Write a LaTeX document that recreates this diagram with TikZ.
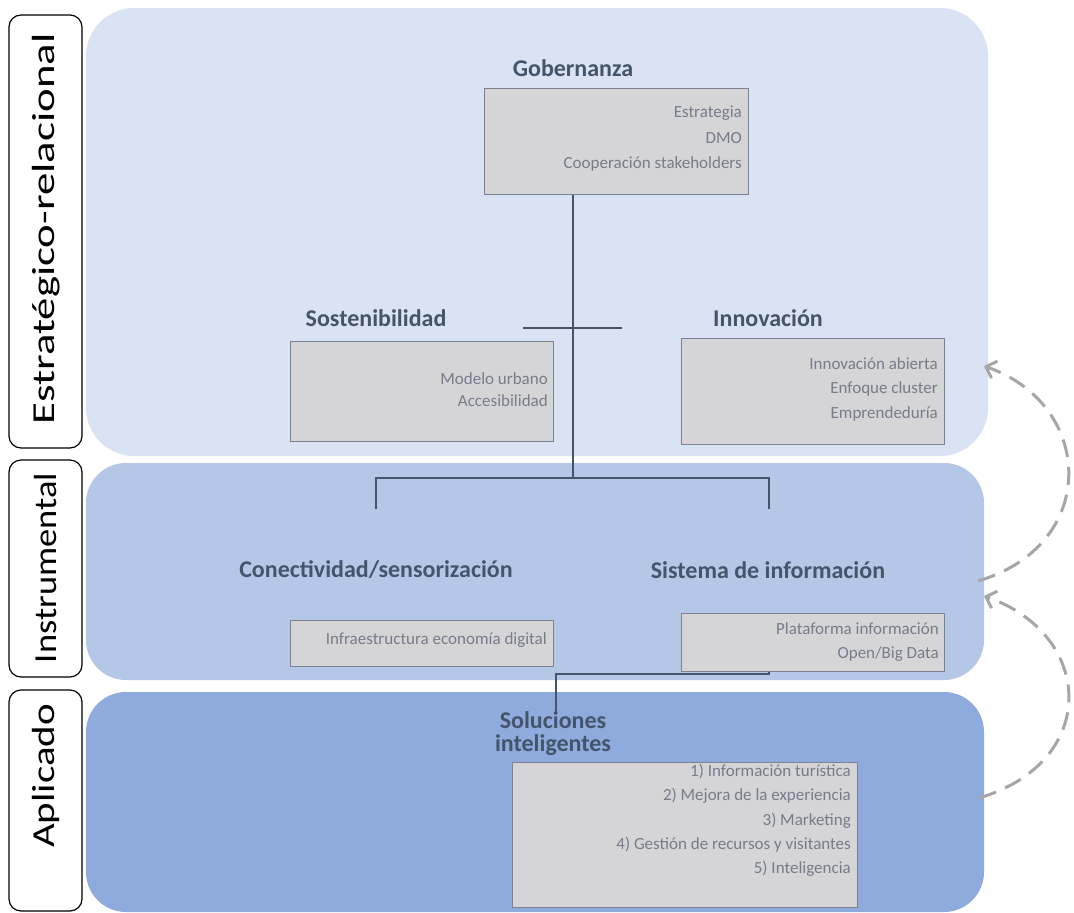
\documentclass[tikz,border=0pt]{standalone}
\usepackage{fontspec}
\setmainfont{Carlito}
\usepackage{graphicx}
\usetikzlibrary{arrows.meta}
\definecolor{pTop}{HTML}{DAE3F3}
\definecolor{pMid}{HTML}{B4C7E7}
\definecolor{pBot}{HTML}{8FAADC}
\definecolor{boxf}{HTML}{D5D5D8}
\definecolor{boxd}{HTML}{7C8290}
\definecolor{head}{HTML}{44546A}
\definecolor{smallc}{HTML}{767C89}
\definecolor{arr}{HTML}{A6A6A6}
\tikzset{
  panel/.style={rounded corners=48pt, draw=none},
  lvlbox/.style={draw=black, line width=1.2pt, rounded corners=12pt, fill=white},
  lvltxt/.style={rotate=90, font=\fontsize{32}{36}\selectfont, text=black, inner sep=0pt},
  gbox/.style={draw=boxd, line width=1.2pt, fill=boxf, anchor=north west, inner sep=0pt},
  head/.style={font=\fontsize{24}{28}\selectfont\bfseries, text=head, inner sep=0pt},
  stxt/.style={font=\fontsize{17}{20}\selectfont, text=smallc, anchor=east, inner sep=0pt, text height=11pt, text depth=3.5pt},
  conn/.style={draw=head, line width=1.3pt},
  dasharr/.style={draw=arr, line width=3pt, dash pattern=on 18pt off 10pt, -{Straight Barb[length=9pt,width=18pt,line width=3pt]}}
}
\begin{document}
\begin{tikzpicture}[x=1pt,y=-1pt]
\useasboundingbox (0,0) rectangle (1074,913);
% panels
\fill[pTop, panel] (86,8) rectangle (988,456);
\fill[pMid, panel, rounded corners=40pt] (86,463) rectangle (984,680);
\fill[pBot, panel, rounded corners=40pt] (86,692) rectangle (984,912);
% level labels
\draw[lvlbox] (9,15) rectangle (82,448);
\node[lvltxt] (lE) at (46,229) {\scalebox{1.4}[1]{Estratégico-relacional}};
\draw[lvlbox] (9,460) rectangle (82,677);
\node[lvltxt] (lI) at (46,568) {\scalebox{1.14}[1]{Instrumental}};
\draw[lvlbox] (9,690) rectangle (82,911);
\node[lvltxt] (lA) at (46,776) {\scalebox{1.28}[1]{Aplicado}};
% connector coordinates
\coordinate (hub) at (573,478);
\coordinate (cl) at (376,478);
\coordinate (cr) at (769,478);
\coordinate (cld) at (376,509);
\coordinate (crd) at (769,509);
\coordinate (xl) at (523,328);
\coordinate (xr) at (622,328);
\coordinate (pa) at (769,660);
\coordinate (pb) at (769,674);
\coordinate (pc) at (556,674);
\coordinate (pd) at (556,712);
% boxes
\node[gbox, minimum width=264pt, minimum height=106pt] (gob) at (484,88) {};
\draw[conn, line width=1.8pt] (gob.south -| hub) -- (hub);
\draw[conn] (xl) -- (xr);
\draw[conn] (cld) -- (cl) -- (cr) -- (crd);
\draw[conn] (pa) -- (pb) -- (pc) -- (pd);
\node[gbox, minimum width=263pt, minimum height=100pt] (sos) at (290,341) {};
\node[gbox, minimum width=263pt, minimum height=106pt] (inn) at (681,338) {};
\node[gbox, minimum width=263pt, minimum height=46pt] (inf) at (290,620) {};
\node[gbox, minimum width=263pt, minimum height=58pt] (pla) at (681,613) {};
\node[gbox, minimum width=345pt, minimum height=145pt] (sol) at (512,762) {};
% headings
\node[head] (hG) at (573,68) {Gobernanza};
\node[head] (hS) at (376,318) {Sostenibilidad};
\node[head] (hN) at (768,318) {Innovación};
\node[head] (hC) at (376,570) {Conectividad/sensorización};
\node[head] (hI) at (768,570) {Sistema de información};
\node[head] (hSa) at (553,720) {Soluciones};
\node[head] (hSb) at (553,745) {inteligentes};
% box texts
\node[stxt] (g1) at (742,114) {Estrategia};
\node[stxt] (g2) at (742,140) {DMO};
\node[stxt] (g3) at (742,165) {Cooperación stakeholders};
\node[stxt] (s1) at (548,381) {Modelo urbano};
\node[stxt] (s2) at (548,403) {Accesibilidad};
\node[stxt] (n1) at (938,366) {Innovación abierta};
\node[stxt] (n2) at (938,390) {Enfoque cluster};
\node[stxt] (n3) at (938,415) {Emprendeduría};
\node[stxt] (i1) at (547,641) {Infraestructura economía digital};
\node[stxt] (p1) at (939,631) {Plataforma información};
\node[stxt] (p2) at (939,655) {Open/Big Data};
\node[stxt] (o1) at (851,773) {1) Información turística};
\node[stxt] (o2) at (851,797) {2) Mejora de la experiencia};
\node[stxt] (o3) at (851,822) {3) Marketing};
\node[stxt] (o4) at (851,846) {4) Gestión de recursos y visitantes};
\node[stxt] (o5) at (851,870) {5) Inteligencia};
% dashed arrows
\coordinate (a1s) at (978,581);
\coordinate (a1e) at (984,366);
\coordinate (a2s) at (979,798);
\coordinate (a2e) at (984,596);
\draw[dasharr] (a1s) .. controls (1100,545) and (1095,405) .. (a1e);
\draw[dasharr] (a2s) .. controls (1100,762) and (1095,635) .. (a2e);
\end{tikzpicture}
\end{document}
